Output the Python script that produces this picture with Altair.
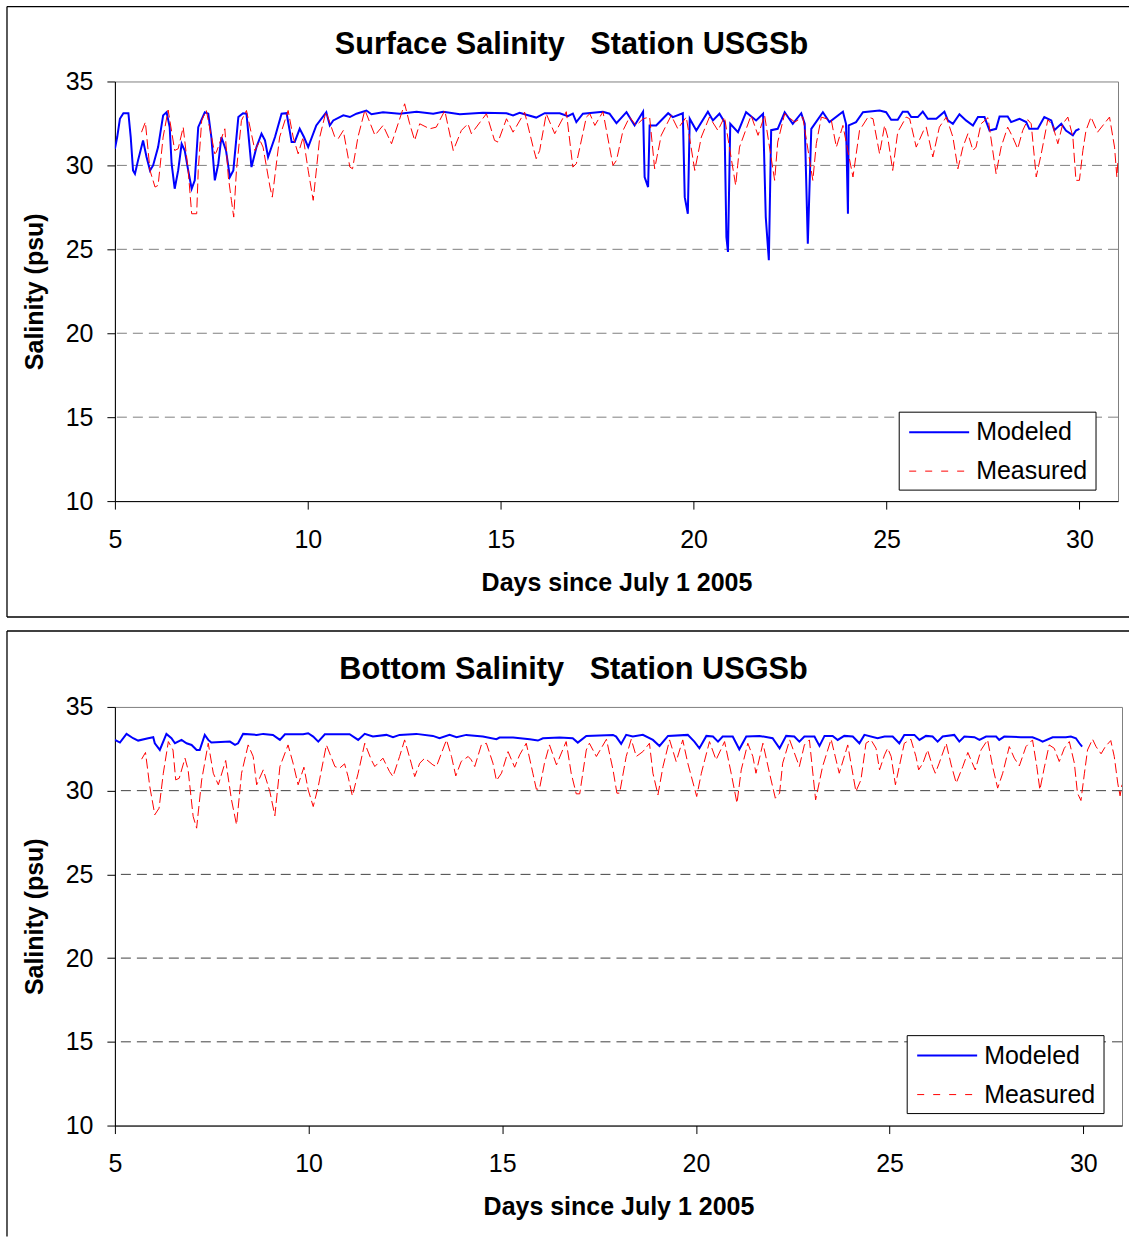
import altair as alt
import pandas as pd

SERIES = ["Modeled", "Measured"]
SERIES_COLORS = ["#0000FF", "#FF0000"]
X_TICKS = [5, 10, 15, 20, 25, 30]
Y_TICKS = [10, 15, 20, 25, 30, 35]
GRID_VALUES = [15, 20, 25, 30]
NB = "\u00a0"
TITLES = ["Surface Salinity" + NB * 3 + "Station USGSb", "Bottom Salinity" + NB * 3 + "Station USGSb"]
X_TITLE = "Days since July 1 2005"
Y_TITLE = "Salinity (psu)"

# ---------------- Surface: modeled ----------------
surf_mod_day = [5.00, 5.06, 5.13, 5.22, 5.35, 5.41, 5.47, 5.52, 5.60, 5.73, 5.82, 5.91, 5.99, 6.12,
                6.25, 6.34, 6.42, 6.47, 6.55, 6.64, 6.73, 6.81, 6.90, 6.99, 7.07, 7.16, 7.33, 7.42,
                7.50, 7.59, 7.68, 7.76, 7.88, 7.98, 8.07, 8.20, 8.32, 8.41, 8.50, 8.54, 8.67, 8.80,
                8.89, 8.97, 9.15, 9.32, 9.45, 9.53, 9.58, 9.66, 9.79, 9.90, 10.01, 10.22, 10.48,
                10.57, 10.66, 10.92, 11.09, 11.26, 11.52, 11.65, 11.95, 12.38, 12.82, 13.25, 13.51,
                13.94, 14.54, 15.15, 15.32, 15.49, 15.92, 16.14, 16.53, 16.74, 16.87, 16.96, 17.13,
                17.65, 17.82, 18.00, 18.26, 18.47, 18.69, 18.73, 18.82, 18.86, 19.03, 19.34, 19.46,
                19.72, 19.77, 19.85, 19.90, 20.07, 20.37, 20.50, 20.67, 20.80, 20.85, 20.89, 20.95,
                21.15, 21.36, 21.62, 21.80, 21.87, 21.95, 22.01, 22.18, 22.36, 22.57, 22.79, 22.88,
                22.96, 23.05, 23.35, 23.52, 23.87, 23.95, 24.00, 24.02, 24.21, 24.39, 24.82, 24.99,
                25.12, 25.29, 25.42, 25.55, 25.64, 25.81, 25.94, 26.07, 26.29, 26.50, 26.59, 26.72,
                26.89, 27.06, 27.24, 27.37, 27.54, 27.67, 27.84, 27.93, 28.14, 28.23, 28.45, 28.62,
                28.70, 28.92, 29.09, 29.27, 29.35, 29.53, 29.65, 29.83, 29.91, 30.00]
surf_mod_val = [30.99, 31.69, 32.78, 33.11, 33.11, 31.69, 29.70, 29.50, 30.30, 31.49, 30.50, 29.70, 30.00, 31.09,
                32.98, 33.17, 32.28, 30.10, 28.61, 29.70, 31.29, 30.89, 29.70, 28.61, 29.11, 32.28, 33.17, 33.08,
                31.69, 29.11, 30.10, 31.69, 30.89, 29.31, 29.70, 32.88, 33.11, 33.08, 30.89, 29.90, 31.09, 31.89,
                31.49, 30.50, 31.69, 33.08, 33.11, 32.08, 31.39, 31.39, 32.18, 31.69, 31.09, 32.38, 33.17,
                32.38, 32.68, 32.98, 32.88, 33.08, 33.27, 33.05, 33.17, 33.08, 33.20, 33.08, 33.20,
                33.05, 33.13, 33.11, 32.98, 33.13, 32.85, 33.11, 33.11, 32.93, 33.08, 32.58, 33.08,
                33.20, 33.08, 32.52, 33.17, 32.38, 33.20, 29.31, 28.71, 32.38, 32.38, 33.11, 32.88,
                33.11, 28.11, 27.12, 32.78, 32.08, 33.20, 32.68, 33.08, 32.58, 25.73, 24.84, 32.48,
                31.98, 33.17, 32.68, 33.08, 26.92, 24.35, 32.10, 32.18, 33.17, 32.48, 33.11, 32.48,
                25.34, 32.18, 33.17, 32.58, 33.20, 32.48, 27.12, 32.38, 32.58, 33.17, 33.27, 33.17,
                32.72, 32.72, 33.20, 33.20, 32.88, 32.88, 33.20, 32.78, 32.78, 33.20, 32.68, 32.48,
                33.05, 32.68, 32.38, 32.88, 32.88, 32.08, 32.18, 32.92, 32.92, 32.58, 32.78, 32.58,
                32.18, 32.18, 32.88, 32.68, 32.10, 32.48, 32.08, 31.79, 32.08, 32.18]

# ---------------- Surface: measured ----------------
surf_meas_day = [5.69, 5.79, 5.91, 6.04, 6.12, 6.25, 6.38, 6.55, 6.64, 6.77, 6.90, 6.99, 7.12, 7.16, 7.25,
                 7.37, 7.59, 7.63, 7.85, 7.94, 8.02, 8.08, 8.15, 8.28, 8.41, 8.63, 8.76, 8.84, 9.02, 9.08,
                 9.27, 9.49, 9.62, 9.75, 9.88, 10.01, 10.14, 10.31, 10.47, 10.70, 10.79, 10.92, 11.09,
                 11.16, 11.30, 11.48, 11.74, 11.95, 12.17, 12.34, 12.51, 12.64, 12.77, 12.90, 13.16,
                 13.33, 13.55, 13.77, 13.98, 14.15, 14.24, 14.63, 14.84, 14.93, 15.15, 15.32, 15.62,
                 15.84, 15.92, 16.01, 16.18, 16.40, 16.70, 16.87, 16.96, 17.22, 17.31, 17.44, 17.65,
                 17.91, 18.00, 18.17, 18.34, 18.51, 18.69, 18.86, 18.99, 19.16, 19.42, 19.59, 19.81,
                 20.03, 20.20, 20.41, 20.63, 20.80, 21.09, 21.19, 21.49, 21.67, 21.84, 22.10, 22.18,
                 22.36, 22.62, 22.83, 23.09, 23.18, 23.31, 23.57, 23.70, 23.87, 24.13, 24.30, 24.52,
                 24.65, 24.82, 24.95, 25.03, 25.16, 25.29, 25.51, 25.60, 25.77, 25.98, 26.03, 26.20,
                 26.37, 26.55, 26.72, 26.85, 26.98, 27.11, 27.24, 27.32, 27.45, 27.63, 27.84, 27.97,
                 28.14, 28.27, 28.40, 28.53, 28.66, 28.75, 28.88, 29.01, 29.18, 29.31, 29.44, 29.57,
                 29.70, 29.83, 29.91, 30.00, 30.09, 30.17, 30.30, 30.47, 30.78, 30.91, 30.97, 31.00]
surf_meas_val = [31.98, 32.58, 29.70, 28.71, 28.81, 31.69, 33.30, 30.89, 30.99, 32.28, 29.70, 27.12, 27.12, 29.70, 32.68,
                 33.27, 30.69, 30.79, 32.18, 29.31, 27.92, 26.92, 29.70, 32.68, 33.27, 30.89, 31.49, 31.09, 28.71, 28.11,
                 31.69, 33.27, 31.69, 30.69, 31.69, 29.70, 27.92, 31.69, 33.20, 31.69, 31.60, 32.08, 29.90,
                 29.80, 31.69, 33.30, 31.79, 32.38, 31.29, 32.48, 33.67, 32.48, 31.49, 32.48, 32.18,
                 32.28, 33.27, 30.89, 32.08, 32.48, 31.89, 33.08, 31.49, 31.39, 32.78, 31.98, 33.17,
                 31.09, 30.40, 30.89, 33.08, 31.89, 33.20, 29.90, 30.10, 32.88, 33.08, 32.38, 33.20,
                 30.00, 30.30, 32.08, 32.88, 32.38, 32.78, 32.88, 29.80, 31.79, 32.98, 32.18, 32.88,
                 29.70, 31.69, 32.88, 32.08, 32.88, 28.81, 31.09, 32.98, 31.79, 32.98, 29.11, 31.39,
                 33.08, 32.58, 32.88, 29.11, 31.29, 32.88, 32.68, 31.09, 32.38, 29.31, 32.08, 32.88,
                 32.78, 30.69, 32.38, 31.69, 29.70, 31.98, 32.88, 32.78, 31.09, 32.18, 32.28, 30.50,
                 32.28, 32.88, 31.69, 29.80, 31.09, 31.89, 30.89, 31.09, 32.48, 32.84, 29.50, 31.09,
                 32.28, 31.69, 30.99, 32.08, 32.72, 32.48, 29.31, 30.69, 32.72, 32.38, 31.29, 32.48,
                 32.88, 31.69, 29.11, 29.11, 30.89, 32.08, 32.88, 31.98, 32.88, 31.09, 29.31, 30.30]

# ---------------- Bottom: modeled ----------------
bot_mod_day = [5.00, 5.13, 5.30, 5.47, 5.60, 5.86, 5.99, 6.03, 6.16, 6.33, 6.46, 6.55, 6.72, 6.85, 6.98,
               7.11, 7.19, 7.32, 7.41, 7.49, 7.97, 8.10, 8.18, 8.31, 8.66, 8.83, 9.08, 9.26, 9.39, 9.86,
               9.99, 10.12, 10.25, 10.42, 11.06, 11.28, 11.45, 11.66, 12.01, 12.18, 12.35, 12.78, 13.21,
               13.38, 13.64, 13.82, 14.07, 14.50, 14.85, 14.93, 15.28, 15.71, 15.92, 16.05, 16.48, 16.82,
               16.95, 17.17, 17.86, 17.94, 18.07, 18.20, 18.37, 18.63, 18.89, 19.06, 19.28, 19.79, 19.96,
               20.09, 20.27, 20.44, 20.57, 20.69, 20.95, 21.12, 21.30, 21.64, 21.98, 22.16, 22.33, 22.54,
               22.67, 22.80, 23.06, 23.19, 23.32, 23.53, 23.66, 23.83, 24.05, 24.22, 24.35, 24.69, 24.87,
               25.08, 25.25, 25.38, 25.64, 25.77, 25.94, 26.11, 26.24, 26.37, 26.67, 26.80, 26.93, 27.19,
               27.32, 27.49, 27.75, 27.83, 27.96, 28.39, 28.69, 28.86, 28.95, 29.21, 29.55, 29.68, 29.81,
               29.90, 29.97]
bot_mod_val = [33.03, 32.87, 33.39, 33.13, 32.99, 33.13, 33.19, 32.83, 32.43, 33.39, 33.13, 32.83, 33.03, 32.83, 32.73,
               32.43, 32.43, 33.33, 33.03, 32.87, 32.93, 32.73, 32.83, 33.39, 33.33, 33.39, 33.33, 33.03, 33.37, 33.37,
               33.43, 33.23, 32.93, 33.37, 33.37, 33.03, 33.39, 33.23, 33.33, 33.19, 33.33, 33.39, 33.27,
               33.13, 33.33, 33.19, 33.33, 33.23, 33.07, 33.17, 33.17, 33.07, 32.99, 33.13, 33.17, 33.13,
               32.87, 33.27, 33.33, 33.23, 32.79, 33.33, 33.23, 33.33, 33.03, 32.67, 33.27, 33.33, 32.93,
               32.53, 33.27, 33.23, 32.93, 33.23, 33.23, 32.47, 33.23, 33.27, 33.13, 32.53, 33.27, 33.23,
               32.93, 33.23, 33.23, 32.67, 33.27, 33.27, 33.03, 33.27, 33.23, 32.83, 33.33, 33.13, 33.23,
               33.23, 32.83, 33.33, 33.33, 33.03, 33.27, 33.23, 32.93, 33.23, 33.33, 32.93, 33.23, 33.19,
               33.03, 33.23, 33.23, 33.03, 33.23, 33.19, 33.19, 33.03, 32.93, 33.19, 33.19, 33.23, 33.13,
               32.83, 32.63]

# ---------------- Bottom: measured ----------------
bot_meas_day = [5.69, 5.79, 5.90, 6.03, 6.14, 6.25, 6.38, 6.50, 6.57, 6.66, 6.81, 6.89, 7.02, 7.11, 7.24,
                7.41, 7.54, 7.67, 7.86, 8.01, 8.14, 8.27, 8.44, 8.57, 8.66, 8.83, 9.00, 9.13, 9.26, 9.47,
                9.60, 9.73, 9.88, 9.99, 10.12, 10.25, 10.46, 10.68, 10.80, 10.93, 11.02, 11.13, 11.28,
                11.45, 11.62, 11.71, 11.92, 12.09, 12.18, 12.35, 12.48, 12.65, 12.74, 12.87, 13.00, 13.21,
                13.30, 13.56, 13.69, 13.80, 13.94, 14.12, 14.20, 14.29, 14.46, 14.59, 14.76, 14.85, 14.98,
                15.15, 15.32, 15.45, 15.62, 15.79, 15.88, 15.96, 16.09, 16.22, 16.40, 16.65, 16.78, 16.91,
                17.00, 17.17, 17.25, 17.43, 17.69, 17.86, 17.96, 18.03, 18.20, 18.33, 18.46, 18.63, 18.80,
                18.89, 19.02, 19.15, 19.32, 19.49, 19.66, 19.79, 20.02, 20.14, 20.35, 20.52, 20.74, 20.91,
                21.06, 21.17, 21.34, 21.47, 21.55, 21.73, 21.90, 22.05, 22.16, 22.24, 22.42, 22.67, 22.80,
                22.93, 23.09, 23.27, 23.49, 23.70, 23.92, 24.13, 24.26, 24.39, 24.52, 24.65, 24.74, 24.87,
                24.95, 25.04, 25.15, 25.25, 25.38, 25.55, 25.68, 25.75, 25.86, 25.98, 26.11, 26.18, 26.28,
                26.46, 26.59, 26.72, 26.89, 27.02, 27.10, 27.21, 27.36, 27.53, 27.66, 27.79, 27.92, 28.09,
                28.22, 28.35, 28.52, 28.69, 28.80, 28.88, 28.99, 29.12, 29.25, 29.38, 29.51, 29.64, 29.77,
                29.85, 29.94, 30.03, 30.11, 30.24, 30.33, 30.46, 30.57, 30.71, 30.80, 30.89, 30.95, 31.00]
bot_meas_val = [31.88, 32.28, 30.25, 28.56, 28.95, 31.04, 32.93, 32.43, 30.64, 30.74, 31.94, 31.24, 28.46, 27.76, 30.64,
                32.83, 31.04, 30.35, 31.80, 29.45, 27.96, 31.04, 32.73, 32.04, 30.35, 31.24, 29.95, 28.50, 31.44, 32.73,
                31.64, 30.35, 31.40, 30.05, 29.05, 30.25, 32.73, 31.44, 31.34, 31.60, 30.84, 29.69, 31.04,
                32.83, 31.84, 31.44, 31.94, 31.14, 30.84, 32.04, 33.03, 31.64, 30.84, 31.64, 31.94, 31.54,
                31.44, 33.03, 32.04, 30.88, 31.74, 32.04, 31.84, 31.44, 32.73, 32.83, 31.64, 30.60, 31.04,
                32.33, 31.40, 32.14, 32.83, 31.04, 30.09, 30.09, 31.64, 32.73, 31.54, 32.93, 31.04, 29.81,
                29.81, 32.43, 32.83, 32.04, 33.07, 31.24, 29.85, 29.85, 32.04, 33.07, 32.04, 32.33, 32.83,
                31.04, 29.75, 31.44, 33.03, 31.74, 33.03, 31.64, 29.65, 31.04, 32.93, 31.84, 32.93, 31.04,
                29.25, 31.24, 32.83, 32.04, 31.04, 32.83, 31.04, 29.55, 29.85, 31.64, 33.03, 31.44, 32.73,
                33.03, 29.45, 31.44, 33.07, 31.04, 32.73, 29.95, 30.64, 32.83, 33.03, 32.53, 31.24, 32.14,
                32.53, 32.04, 30.35, 31.44, 32.83, 33.07, 32.04, 31.24, 31.64, 32.43, 31.44, 31.04, 31.64,
                32.83, 31.54, 30.45, 31.44, 32.28, 31.84, 31.24, 32.43, 33.03, 31.44, 30.15, 31.04, 32.63,
                31.94, 31.48, 32.63, 33.03, 31.44, 30.05, 31.34, 32.73, 32.53, 31.74, 32.53, 32.93, 31.64,
                29.85, 29.41, 31.04, 32.43, 33.07, 32.63, 32.20, 32.63, 32.99, 32.04, 30.45, 29.69, 30.35]

FONT = "Liberation Sans"
ONE = pd.DataFrame({"k": [0]})


def panel(title_text, title_x, title_y, mdays, mvals, sdays, svals, width, height,
          grid_color, leg_x, leg_y, border_top, border_bottom, draw_bottom_border):
    xs = alt.Scale(domain=[5, 31], nice=False, zero=False)
    ys = alt.Scale(domain=[10, 35], nice=False, zero=False)

    x_axis = alt.Axis(values=X_TICKS, title=X_TITLE, grid=False, labelFlush=False,
                      tickSize=8, tickColor="black", domainColor="black", domainWidth=1,
                      labelPadding=18, labelFontSize=25, labelColor="black", labelFont=FONT,
                      titleFontSize=25, titleFontWeight="bold", titleColor="black", titleFont=FONT,
                      titleX=width / 2, titleY=81, titleBaseline="middle", titleAlign="center")
    y_axis = alt.Axis(values=Y_TICKS, title=Y_TITLE, grid=False, labelFlush=False,
                      tickSize=8, tickColor="black", domainColor="black", domainWidth=1,
                      labelPadding=14, labelFontSize=25, labelColor="black", labelFont=FONT,
                      titleFontSize=25, titleFontWeight="bold", titleColor="black", titleFont=FONT,
                      titleX=-80, titleY=height / 2, titleBaseline="middle", titleAlign="center")

    grid = alt.Chart(pd.DataFrame({"sal": GRID_VALUES})).mark_rule(
        color=grid_color, strokeDash=[10, 6], strokeWidth=1
    ).encode(y=alt.Y("sal:Q", scale=ys, axis=y_axis))

    mod = alt.Chart(pd.DataFrame({"day": mdays, "sal": mvals})).mark_line(
        color=SERIES_COLORS[0], strokeWidth=2, clip=True
    ).encode(x=alt.X("day:Q", scale=xs, axis=x_axis),
             y=alt.Y("sal:Q", scale=ys, axis=y_axis),
             order="day:Q")

    meas = alt.Chart(pd.DataFrame({"day": sdays, "sal": svals})).mark_line(
        color=SERIES_COLORS[1], strokeWidth=1, strokeDash=[10, 4], clip=True
    ).encode(x=alt.X("day:Q", scale=xs, axis=x_axis),
             y=alt.Y("sal:Q", scale=ys, axis=y_axis),
             order="day:Q")

    # legend (box, sample lines, labels)
    leg_box = alt.Chart(ONE).mark_rect(fill="white", stroke="black", strokeWidth=1).encode(
        x=alt.value(leg_x), x2=alt.value(leg_x + 197),
        y=alt.value(leg_y), y2=alt.value(leg_y + 78))
    leg_layers = [leg_box]
    dashes = [[1, 0], [7, 9]]
    widths = [2, 1]
    for i, name in enumerate(SERIES):
        yy = leg_y + 20 + 39 * i
        leg_layers.append(
            alt.Chart(ONE).mark_rule(color=SERIES_COLORS[i], strokeWidth=widths[i],
                                     strokeDash=dashes[i]).encode(
                x=alt.value(leg_x + 10), x2=alt.value(leg_x + 70), y=alt.value(yy)))
        leg_layers.append(
            alt.Chart(ONE).mark_text(align="left", baseline="middle", fontSize=25,
                                     font=FONT, color="black").encode(
                x=alt.value(leg_x + 77), y=alt.value(yy), text=alt.value(name)))

    title = alt.Chart(ONE).mark_text(align="center", baseline="middle", fontSize=30.7,
                                     fontWeight="bold", font=FONT, color="black").encode(
        x=alt.value(title_x), y=alt.value(title_y), text=alt.value(title_text))

    borders = [
        alt.Chart(ONE).mark_rule(color="black", strokeWidth=1.3).encode(
            x=alt.value(-108), x2=alt.value(1015), y=alt.value(border_top)),
        alt.Chart(ONE).mark_rule(color="black", strokeWidth=1.3).encode(
            x=alt.value(-108), y=alt.value(border_top), y2=alt.value(border_bottom)),
    ]
    if draw_bottom_border:
        borders.append(
            alt.Chart(ONE).mark_rule(color="black", strokeWidth=1.3).encode(
                x=alt.value(-108), x2=alt.value(1015), y=alt.value(border_bottom)))

    return alt.layer(grid, mod, meas, *leg_layers, title, *borders).properties(
        width=width, height=height)


top = panel(TITLES[0], 457, -36, surf_mod_day, surf_mod_val, surf_meas_day, surf_meas_val,
            1004, 420, "#808080", 785, 331, -75, 536, True)
bottom = panel(TITLES[1], 459, -37, bot_mod_day, bot_mod_val, bot_meas_day, bot_meas_val,
               1008, 419, "#404040", 793, 329, -76, 530, False)

chart = alt.vconcat(top, bottom, spacing=10).properties(
    padding={"left": 5, "top": 4, "right": 0, "bottom": 0},
    background="white",
).configure(font=FONT).configure_view(stroke="#808080", strokeWidth=1)

chart.save("out.html", embed_options={"renderer": "svg", "actions": False})
